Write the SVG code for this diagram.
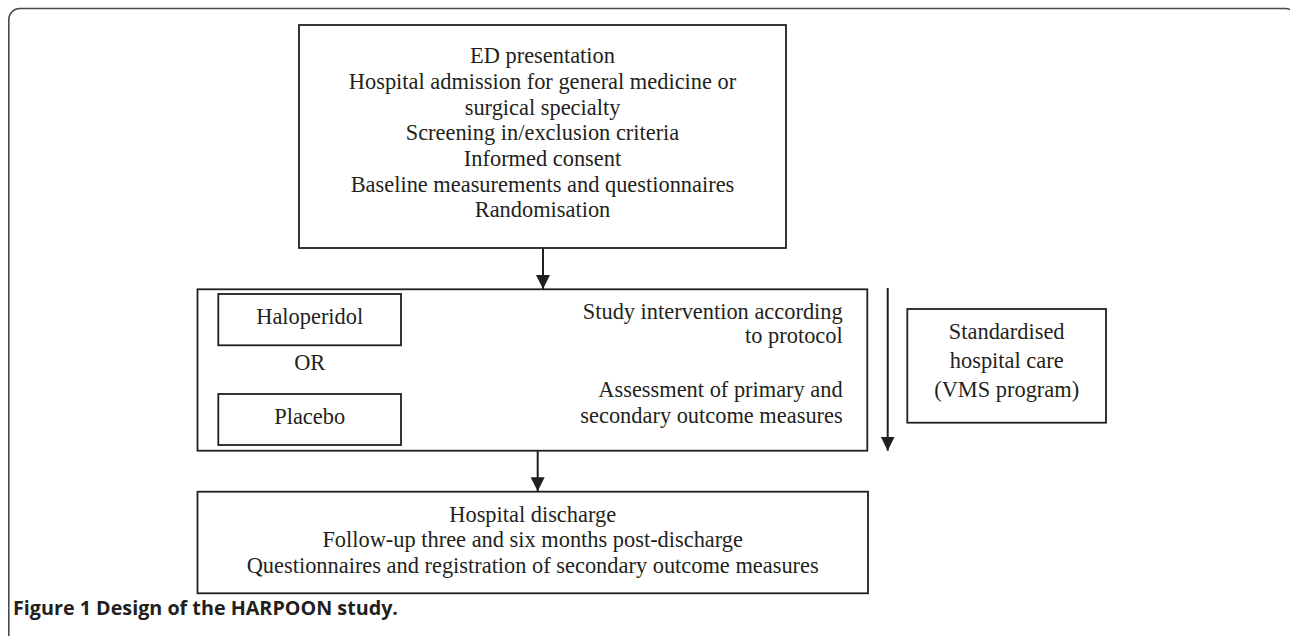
<svg xmlns="http://www.w3.org/2000/svg" width="1290" height="636" viewBox="0 0 1290 636">
  <style>
    .box { fill: #ffffff; stroke: #231f20; stroke-width: 1.8; }
    .t { font-family: "Liberation Serif", "Times New Roman", serif; font-size: 22.4px; fill: #231f20; }
    .c { text-anchor: middle; }
    .r { text-anchor: end; }
    .conn { stroke: #231f20; stroke-width: 2; fill: none; }
    .cap { font-family: "Open Sans", "Noto Sans", sans-serif; font-weight: bold; font-size: 19.5px; fill: #231f20; }
  </style>
  <defs>
    <marker id="ah" markerUnits="userSpaceOnUse" markerWidth="14" markerHeight="14" viewBox="0 0 14 14" refX="14" refY="7" orient="auto">
      <path d="M0,0 L14,7 L0,14 Z" fill="#231f20"/>
    </marker>
  </defs>
  <rect width="1290" height="636" fill="#ffffff"/>
  <path d="M8.8,640 V19.5 A11,11 0 0 1 19.8,8.5 H1285 A11,11 0 0 1 1296,19.5 V640" fill="none" stroke="#4a4a4a" stroke-width="1.6"/>

  <g id="node-start">
    <rect class="box" x="299" y="25" width="487" height="223"/>
    <text class="t c" x="542.5" y="63.3">ED presentation</text>
    <text class="t c" x="542.5" y="89">Hospital admission for general medicine or</text>
    <text class="t c" x="542.5" y="114.6">surgical specialty</text>
    <text class="t c" x="542.5" y="140.3">Screening in/exclusion criteria</text>
    <text class="t c" x="542.5" y="166">Informed consent</text>
    <text class="t c" x="542.5" y="191.6">Baseline measurements and questionnaires</text>
    <text class="t c" x="542.5" y="217.3">Randomisation</text>
  </g>

  <g id="node-intervention">
    <rect class="box" x="197.5" y="289.3" width="669.8" height="161.4"/>
    <text class="t r" x="842.7" y="319">Study intervention according</text>
    <text class="t r" x="842.7" y="342.5">to protocol</text>
    <text class="t r" x="842.7" y="396.7">Assessment of primary and</text>
    <text class="t r" x="842.7" y="423.3">secondary outcome measures</text>
  </g>

  <g id="node-haloperidol">
    <rect class="box" x="218.3" y="294" width="182.7" height="51.3"/>
    <text class="t c" x="309.7" y="324.3">Haloperidol</text>
  </g>

  <g id="node-or">
    <text class="t c" x="309.7" y="370">OR</text>
  </g>

  <g id="node-placebo">
    <rect class="box" x="218.3" y="394" width="182.7" height="51"/>
    <text class="t c" x="309.7" y="424">Placebo</text>
  </g>

  <g id="node-care">
    <rect class="box" x="907.3" y="309" width="198.7" height="113.7"/>
    <text class="t c" x="1006.7" y="339.3">Standardised</text>
    <text class="t c" x="1006.7" y="368.3">hospital care</text>
    <text class="t c" x="1006.7" y="396.7">(VMS program)</text>
  </g>

  <g id="node-discharge">
    <rect class="box" x="197.5" y="491.7" width="670.5" height="101.6"/>
    <text class="t c" x="532.7" y="521.7">Hospital discharge</text>
    <text class="t c" x="532.7" y="547.3">Follow-up three and six months post-discharge</text>
    <text class="t c" x="532.7" y="572.5">Questionnaires and registration of secondary outcome measures</text>
  </g>

  <g id="connectors">
    <line class="conn" x1="543" y1="248" x2="543" y2="289" marker-end="url(#ah)"/>
    <line class="conn" x1="887.7" y1="288" x2="887.7" y2="450.7" marker-end="url(#ah)"/>
    <line class="conn" x1="537.7" y1="450.7" x2="537.7" y2="491.3" marker-end="url(#ah)"/>
  </g>

  <text class="cap" x="13" y="615" textLength="385" lengthAdjust="spacingAndGlyphs">Figure 1 Design of the HARPOON study.</text>
</svg>
